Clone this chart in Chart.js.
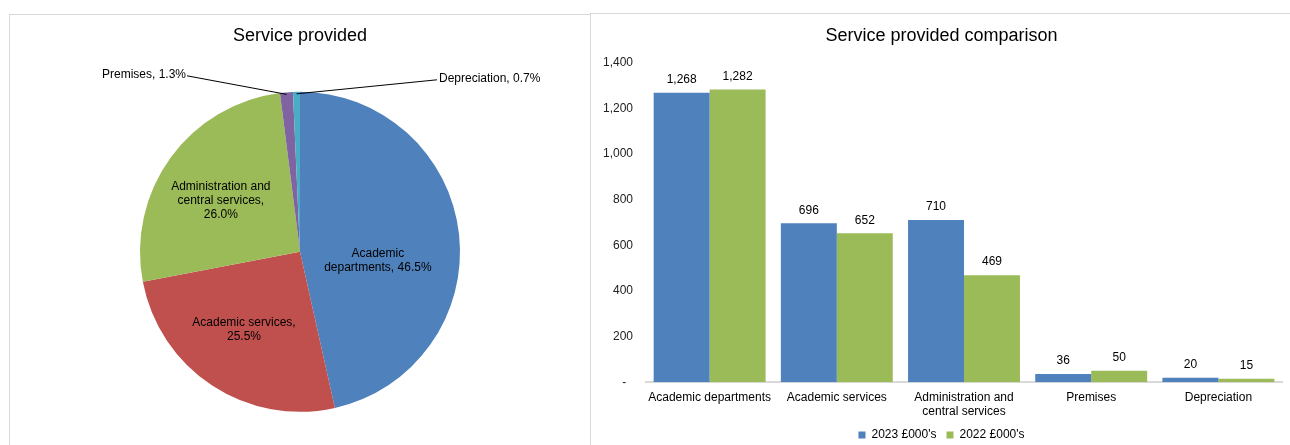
<!DOCTYPE html>
<html>
<head>
<meta charset="utf-8">
<script src="https://cdn.jsdelivr.net/npm/chart.js@4.4.0/dist/chart.umd.min.js"></script>
<style>
    html, body { margin: 0; padding: 0; background: #fff; overflow: hidden; }
    body { width: 1290px; height: 445px; position: relative; }
    .panel { position: absolute; box-sizing: border-box; border-top: 1px solid #d9d9d9; border-left: 1px solid #d9d9d9; }
    #piePanel { left: 9px; top: 14px; width: 581px; height: 440px; }
    #barPanel { left: 590px; top: 13px; width: 710px; height: 440px; }
    canvas { position: absolute; display: block; }
    #pieChart { left: 9px; top: 14px; }
    #barChart { left: 590px; top: 14px; }
</style>
</head>
<body>
<div class="panel" id="piePanel"></div>
<div class="panel" id="barPanel"></div>
<canvas id="pieChart" width="581" height="431"></canvas>
<canvas id="barChart" width="700" height="437"></canvas>
<script>
// Pie data (shares in %)
const pieCategories = ['Academic departments', 'Academic services', 'Administration and central services', 'Premises', 'Depreciation'];
const pieShares = [46.5, 25.5, 26.0, 1.3, 0.7];
const pieLabelLines = [
    ['Academic', 'departments, 46.5%'],
    ['Academic services,', '25.5%'],
    ['Administration and', 'central services,', '26.0%'],
    ['Premises, 1.3%'],
    ['Depreciation, 0.7%']
];

// Bar data (£000's)
const barCategories = [['Academic departments'], ['Academic services'], ['Administration and', 'central services'], ['Premises'], ['Depreciation']];
const values2023 = [1268, 696, 710, 36, 20];
const values2022 = [1282, 652, 469, 50, 15];
const seriesNames = ["2023 £000's", "2022 £000's"];

// Colours
const BLUE = '#4F81BD';
const RED = '#C0504D';
const GREEN = '#9BBB59';
const PURPLE = '#8064A2';
const CYAN = '#4BACC6';
const FONT = '"Liberation Sans", Arial, sans-serif';

Chart.defaults.font.family = FONT;
Chart.defaults.color = '#000';

// Draws the slice labels, with leader lines for the small slices
const pieLabelPlugin = {
    id: 'pieLabels',
    afterDatasetsDraw(chart, args, opts) {
        const ctx = chart.ctx;
        const arcs = chart.getDatasetMeta(0).data;
        ctx.save();
        ctx.font = '12px ' + FONT;
        ctx.fillStyle = '#000';
        ctx.textBaseline = 'middle';
        arcs.forEach((arc, i) => {
            const p = opts.placement[i];
            const { x, y, startAngle, endAngle, outerRadius } = arc.getProps(['x', 'y', 'startAngle', 'endAngle', 'outerRadius'], true);
            const mid = (startAngle + endAngle) / 2;
            const lines = pieLabelLines[i];
            if (p.inside) {
                const a = mid + p.turn * Math.PI / 180;
                const cx = x + Math.cos(a) * outerRadius * p.dist;
                const cy = y + Math.sin(a) * outerRadius * p.dist;
                ctx.textAlign = 'center';
                lines.forEach((t, k) => ctx.fillText(t, cx, cy + (k - (lines.length - 1) / 2) * 14));
            } else {
                const ex = x + Math.cos(mid) * (outerRadius - 2);
                const ey = y + Math.sin(mid) * (outerRadius - 2);
                const lx = x + p.dx;
                const ly = y + p.dy;
                ctx.strokeStyle = '#000';
                ctx.lineWidth = 1;
                ctx.beginPath();
                ctx.moveTo(ex, ey);
                ctx.lineTo(lx, ly);
                ctx.stroke();
                ctx.textAlign = p.dx < 0 ? 'right' : 'left';
                ctx.fillText(lines[0], lx + (p.dx < 0 ? -1 : 2), ly - 1);
            }
        });
        ctx.restore();
    }
};

// Draws the value above each bar
const barValuePlugin = {
    id: 'barValues',
    afterDatasetsDraw(chart) {
        const ctx = chart.ctx;
        ctx.save();
        ctx.font = '12px ' + FONT;
        ctx.fillStyle = '#000';
        ctx.textAlign = 'center';
        ctx.textBaseline = 'middle';
        chart.data.datasets.forEach((ds, di) => {
            chart.getDatasetMeta(di).data.forEach((bar, i) => {
                ctx.fillText(ds.data[i].toLocaleString('en-GB'), bar.x, bar.y - 13);
            });
        });
        ctx.restore();
    }
};

function createPieChart() {
    const ctx = document.getElementById('pieChart').getContext('2d');
    return new Chart(ctx, {
        type: 'pie',
        data: {
            labels: pieCategories,
            datasets: [{
                data: pieShares,
                backgroundColor: [BLUE, RED, GREEN, PURPLE, CYAN],
                borderWidth: 0
            }]
        },
        options: {
            responsive: false,
            animation: false,
            layout: { padding: { left: 131, right: 130, top: 0, bottom: 32 } },
            plugins: {
                title: {
                    display: true,
                    text: 'Service provided',
                    color: '#000',
                    font: { size: 18, weight: 'normal' },
                    padding: { top: 11, bottom: 44 }
                },
                legend: { display: false },
                tooltip: { enabled: false },
                pieLabels: {
                    placement: [
                        { inside: true, dist: 0.49, turn: 13 },
                        { inside: true, dist: 0.6, turn: 2.4 },
                        { inside: true, dist: 0.59, turn: -3 },
                        { inside: false, dx: -113, dy: -176 },
                        { inside: false, dx: 137, dy: -172 }
                    ]
                }
            }
        },
        plugins: [pieLabelPlugin]
    });
}

function createBarChart() {
    const ctx = document.getElementById('barChart').getContext('2d');
    return new Chart(ctx, {
        type: 'bar',
        data: {
            labels: barCategories,
            datasets: [{
                label: seriesNames[0],
                data: values2023,
                backgroundColor: BLUE,
                categoryPercentage: 0.88,
                barPercentage: 1
            }, {
                label: seriesNames[1],
                data: values2022,
                backgroundColor: GREEN,
                categoryPercentage: 0.88,
                barPercentage: 1
            }]
        },
        options: {
            responsive: false,
            animation: false,
            layout: { padding: { left: 11, right: 8, top: 0, bottom: 0 } },
            plugins: {
                title: {
                    display: true,
                    text: 'Service provided comparison',
                    color: '#000',
                    font: { size: 18, weight: 'normal' },
                    padding: { top: 11, bottom: 16 }
                },
                legend: {
                    position: 'bottom',
                    labels: {
                        boxWidth: 7,
                        boxHeight: 7,
                        padding: 10,
                        color: '#000',
                        font: { size: 12 }
                    }
                },
                tooltip: { enabled: false }
            },
            scales: {
                x: {
                    grid: { display: false, drawTicks: false },
                    border: { display: true, color: '#d9d9d9', width: 2 },
                    ticks: { color: '#000', font: { size: 12 }, padding: 8, maxRotation: 0, autoSkip: false },
                    afterFit: scale => { scale.height -= 8; }
                },
                y: {
                    min: 0,
                    max: 1400,
                    grid: { display: false, drawTicks: false },
                    border: { display: false },
                    ticks: {
                        stepSize: 200,
                        padding: 13,
                        color: '#222',
                        font: { size: 12 },
                        callback: v => v === 0 ? '-  ' : v.toLocaleString('en-GB')
                    },
                    afterFit: scale => { scale.width -= 11; }
                }
            }
        },
        plugins: [barValuePlugin]
    });
}

createPieChart();
createBarChart();
</script>
</body>
</html>
